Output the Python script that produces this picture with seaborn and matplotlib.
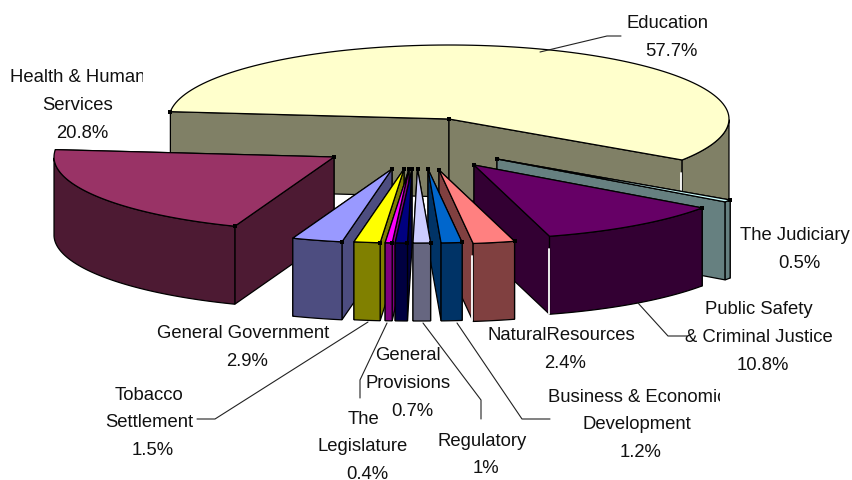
import matplotlib
matplotlib.use('Agg')
import matplotlib.pyplot as plt
import matplotlib.patches as patches
import numpy as np
import seaborn as sns

categories = ['Education', 'The Judiciary', 'Public Safety & Criminal Justice', 'NaturalResources',
	'Business & Economic Development', 'Regulatory', 'General Provisions', 'The Legislature',
	'Tobacco Settlement', 'General Government', 'Health & Human Services']
values = [57.7, 0.5, 10.8, 2.4, 1.2, 1, 0.7, 0.4, 1.5, 2.9, 20.8]

label_lines = [['Education'], ['The Judiciary'], ['Public Safety', '& Criminal Justice'], ['NaturalResources'],
	['Business & Economic', 'Development'], ['Regulatory'], ['General', 'Provisions'], ['The', 'Legislature'],
	['Tobacco', 'Settlement'], ['General Government'], ['Health & Human', 'Services']]

top_colors = ['#FFFFCC', '#CCFFFF', '#660066', '#FF8080', '#0066CC', '#CCCCFF', '#000080', '#FF00FF', '#FFFF00', '#9999FF', '#993366']
wall_colors = ['#808066', '#668080', '#330033', '#804040', '#003366', '#666680', '#000040', '#800080', '#808000', '#4D4D80', '#4D1A33']

# pie geometry in pixels
cx, cy = 447, 120
rx, ry = 280, 74
depth = 78
start_angle = -84.3

# how far each slice is pulled out of the pie
explode_x = [2, 50, 27, -8, -19, -29.5, -35, -38, -43, -55, -113]
explode_y = [-1, 39, 45, 50, 49, 49, 49, 49, 49, 49, 37]

# painter order, back to front
draw_order = [0, 1, 2, 10, 3, 9, 8, 7, 4, 6, 5]
# small gap between side wall and outer wall
gap_slices = [0, 2, 3]

# centre of the first text line of each label
text_x = [667, 795, 759, 561, 637, 482, 408, 363, 149, 243, 78]
text_y = [24, 236, 310, 336, 397, 441, 356, 419, 395, 334, 78]
line_step = 27.6
# (left, right) limits where the chart area cut the label off
text_clip = {4: (500, 720), 10: (0, 143)}

leaders = [
	[(540, 52), (607, 36), (621, 36)],
	[(638, 303), (668, 336), (687, 336)],
	[(457, 323), (522, 419), (550, 419)],
	[(423, 323), (481, 400), (481, 419)],
	[(387, 323), (360, 380), (360, 398)],
	[(368, 322), (215, 419), (197, 419)],
]


def main():
	sns.set_theme(style="white")
	plt.rcParams['font.family'] = ['Liberation Sans', 'DejaVu Sans']

	fig, ax = plt.subplots(figsize=(8.52, 4.8), dpi=100)
	ax.set_position([0, 0, 1, 1])
	ax.set_xlim(0, 852)
	ax.set_ylim(480, 0)
	ax.axis('off')

	edges = start_angle + np.concatenate([[0], np.cumsum(values)]) / sum(values) * 360
	handle_x = []
	handle_y = []

	for i in draw_order:
		tx = cx + explode_x[i]
		ty = cy + explode_y[i]
		theta = np.radians(np.linspace(edges[i], edges[i + 1], 120))
		ax_x = tx + rx * np.sin(theta)
		ax_y = ty - ry * np.cos(theta)

		# flat side walls, the one lower on screen goes on top
		for end in sorted((0, -1), key=lambda e: ax_y[e]):
			ax.fill([tx, ax_x[end], ax_x[end], tx], [ty, ax_y[end], ax_y[end] + depth, ty + depth],
				facecolor=wall_colors[i], edgecolor='black', linewidth=0.9, zorder=i_z(i, 0))

		# outer wall, only the part facing the viewer
		front = np.cos(theta) < 0
		if front.any():
			fx = ax_x[front]
			fy = ax_y[front]
			ax.fill(np.r_[fx, fx[::-1]], np.r_[fy, fy[::-1] + depth],
				facecolor=wall_colors[i], edgecolor='black', linewidth=0.9, zorder=i_z(i, 1))

		if i in gap_slices:
			ax.plot([ax_x[-1] - 1, ax_x[-1] - 1], [ax_y[-1] + 13, ax_y[-1] + depth], color='white', linewidth=1.3, zorder=i_z(i, 2))

		ax.fill(np.r_[tx, ax_x], np.r_[ty, ax_y],
			facecolor=top_colors[i], edgecolor='black', linewidth=0.9, zorder=i_z(i, 3))

		handle_x += [tx, ax_x[0]]
		handle_y += [ty, ax_y[0]]

	sns.scatterplot(x=handle_x, y=handle_y, marker='s', color='black', s=8, linewidth=0, legend=False, ax=ax, zorder=60)

	for line in leaders:
		xs, ys = zip(*line)
		ax.plot(xs, ys, color='#222222', linewidth=0.8, zorder=70)

	for i, lines in enumerate(label_lines):
		rows = lines + ['%g%%' % values[i]]
		for n, row in enumerate(rows):
			# the percent line sits a bit right of the name, like the original
			shift = 4 if n == len(rows) - 1 else 0
			t = ax.text(text_x[i] + shift, text_y[i] + n * line_step, row, ha='center', va='center',
				fontsize=13.3, color='#111111', zorder=80)
			if i in text_clip:
				left, right = text_clip[i]
				t.set_clip_path(patches.Rectangle((left, 0), right - left, 480, transform=ax.transData))
				t.set_clip_on(True)

	fig.savefig('out.png', dpi=100)


def i_z(i, part):
	return 2 + draw_order.index(i) * 4 + part


if __name__ == '__main__':
	main()
